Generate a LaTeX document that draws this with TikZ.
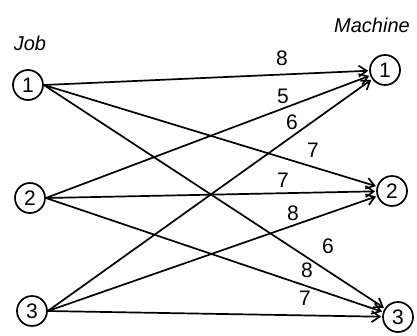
\documentclass[tikz,border=0pt]{standalone}
\usepackage{fontspec}
\setmainfont{Liberation Sans}
\usetikzlibrary{arrows.meta}
\begin{document}
\begin{tikzpicture}[x=1pt,y=-1pt,
  vert/.style={draw,circle,line width=1.7pt,inner sep=0pt,minimum width=30pt,minimum height=28pt,font=\fontsize{21}{24}\selectfont},
  lbl/.style={inner sep=0pt,font=\fontsize{21}{24}\selectfont},
  hdr/.style={inner sep=0pt,font=\fontsize{20}{24}\selectfont\itshape},
  arr/.style={line width=1.7pt,-{Straight Barb[length=8pt,width=11pt,line width=1.7pt]},shorten >=1pt}]
\useasboundingbox (0,0) rectangle (417,335);
\node[hdr] (job) at (30,43) {Job};
\node[hdr] (mach) at (372,25) {Machine};
\node[vert] (j1) at (28,85) {1};
\node[vert] (j2) at (30,198) {2};
\node[vert] (j3) at (32,311) {3};
\node[vert] (m1) at (385,70) {1};
\node[vert] (m2) at (392,191) {2};
\node[vert] (m3) at (398,317) {3};
\foreach \j in {1,2,3}{
  \foreach \m in {1,2,3}{
    \draw[arr] (j\j.east) -- (m\m);
  }
}
\node[lbl] (w11) at (282,58) {8};
\node[lbl] (w21) at (283,96) {5};
\node[lbl] (w31) at (292,122) {6};
\node[lbl] (w12) at (313,150) {7};
\node[lbl] (w22) at (283,180) {7};
\node[lbl] (w32) at (293,213) {8};
\node[lbl] (w13) at (328,246) {6};
\node[lbl] (w23) at (307,270) {8};
\node[lbl] (w33) at (305,298) {7};
\end{tikzpicture}
\end{document}
